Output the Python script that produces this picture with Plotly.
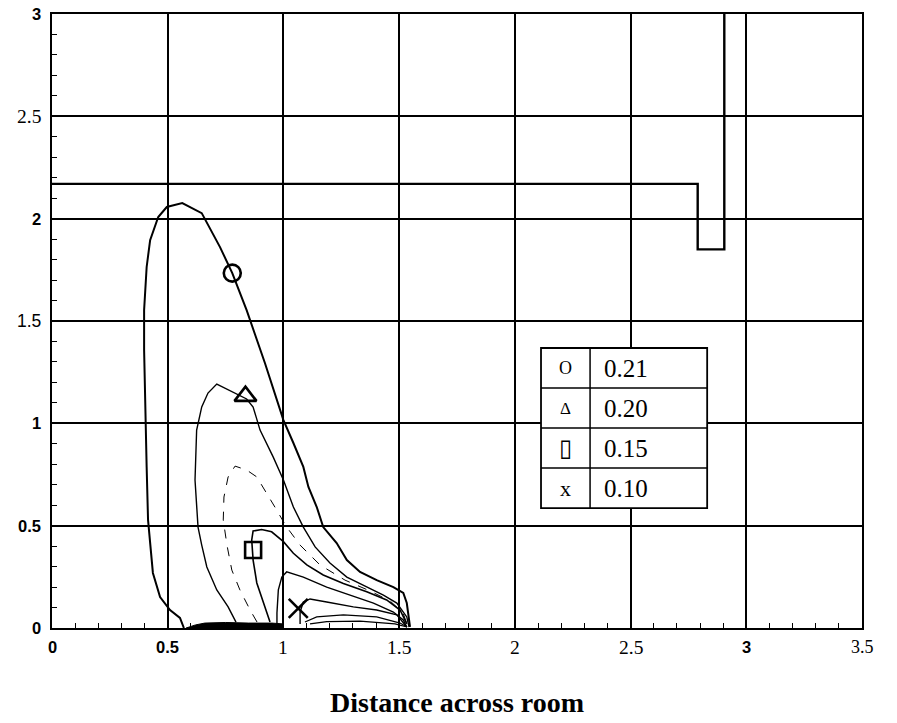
import plotly.graph_objects as go

# ---- contour lines (x = distance across room, y = height) ----
c021_x = [0.570, 0.553, 0.510, 0.467, 0.436, 0.424, 0.415, 0.409, 0.402, 0.398, 0.398, 0.409, 0.424,
          0.459, 0.496, 0.563, 0.647, 0.726, 0.779, 0.841, 0.920, 1.000, 1.043, 1.086, 1.108, 1.144,
          1.172, 1.230, 1.274, 1.331, 1.403, 1.475, 1.518, 1.533, 1.547]
c021_y = [0.000, 0.049, 0.088, 0.151, 0.269, 0.405, 0.528, 0.787, 1.114, 1.358, 1.553, 1.764, 1.895,
          2.008, 2.057, 2.076, 2.027, 1.861, 1.734, 1.553, 1.295, 1.016, 0.904, 0.787, 0.689, 0.591,
          0.493, 0.415, 0.332, 0.274, 0.234, 0.200, 0.171, 0.122, 0.005]

c020_x = [0.795, 0.761, 0.712, 0.669, 0.647, 0.631, 0.618, 0.625, 0.647, 0.674, 0.712, 0.791, 0.841,
          0.869, 0.899, 0.956, 1.000, 1.043, 1.086, 1.137, 1.201, 1.274, 1.360, 1.432, 1.490, 1.533, 1.543]
c020_y = [0.029, 0.103, 0.186, 0.298, 0.405, 0.493, 0.723, 0.967, 1.080, 1.148, 1.192, 1.148, 1.119,
          1.080, 0.967, 0.835, 0.723, 0.591, 0.493, 0.396, 0.318, 0.249, 0.200, 0.161, 0.122, 0.054, 0.005]

c018_x = [0.886, 0.856, 0.812, 0.777, 0.756, 0.740, 0.743, 0.761, 0.791, 0.841, 0.885, 0.928, 0.971,
          1.011, 1.072, 1.158, 1.266, 1.374, 1.461, 1.517, 1.538]
c018_y = [0.029, 0.088, 0.186, 0.283, 0.405, 0.528, 0.640, 0.738, 0.791, 0.772, 0.738, 0.660, 0.576,
          0.498, 0.405, 0.308, 0.234, 0.181, 0.132, 0.073, 0.005]

c015_x = [0.942, 0.913, 0.885, 0.869, 0.863, 0.869, 0.906, 0.949, 1.000, 1.043, 1.101, 1.172, 1.259,
          1.360, 1.446, 1.504, 1.533]
c015_y = [0.029, 0.122, 0.220, 0.332, 0.430, 0.474, 0.481, 0.470, 0.422, 0.365, 0.308, 0.259, 0.218,
          0.177, 0.137, 0.088, 0.020]

c012_x = [0.972, 0.972, 0.978, 0.993, 1.014, 1.086, 1.187, 1.288, 1.389, 1.475, 1.518, 1.533]
c012_y = [0.020, 0.073, 0.186, 0.249, 0.274, 0.249, 0.200, 0.161, 0.122, 0.078, 0.039, 0.005]

c010_x = [1.072, 1.072, 1.086, 1.115, 1.187, 1.302, 1.403, 1.490, 1.533]
c010_y = [0.020, 0.078, 0.127, 0.142, 0.127, 0.103, 0.088, 0.064, 0.005]

c008_x = [1.093, 1.144, 1.259, 1.403, 1.504, 1.534]
c008_y = [0.029, 0.054, 0.064, 0.054, 0.024, 0.005]

c006_x = [1.115, 1.187, 1.331, 1.482, 1.534]
c006_y = [0.020, 0.031, 0.034, 0.020, 0.005]

# dense band of contours along the floor
floor_x = [0.580, 0.620, 0.660, 0.750, 0.850, 0.950, 1.000, 1.000, 0.580]
floor_y = [0.000, 0.015, 0.024, 0.027, 0.024, 0.024, 0.020, 0.000, 0.000]

# room outline (ceiling / step / wall)
room_x = [0.0, 2.79, 2.79, 2.905, 2.905]
room_y = [2.17, 2.17, 1.85, 1.85, 3.0]

# level markers on the contours
mark_x = [0.779, 0.836, 0.869, 1.064]
mark_y = [1.734, 1.133, 0.381, 0.096]
mark_sym = ["circle-open", "triangle-up-open", "square-open", "x-thin-open"]

# key table
key_symbols = ["O", "Δ", "▯", "x"]
key_values = ["0.21", "0.20", "0.15", "0.10"]

# axis ticks and their labels
x_ticks = [0, 0.5, 1, 1.5, 2, 2.5, 3, 3.5]
x_labels = ["0", "0.5", "1", "1.5", "2", "2.5", "3", "3.5"]
y_ticks = [0, 0.5, 1, 1.5, 2, 2.5, 3]
y_labels = ["0", "0.5", "1", "1.5", "2", "2.5", "3"]

SERIF = "Liberation Serif"
SANS = "Liberation Sans"

# font style of each label as it appears in the scanned figure
x_label_style = ["bs", "bs", "serif", "serif", "serif", "serif", "bs", "serif_s"]
y_label_style = ["bs", "bs", "bs", "sans", "bs", "serif", "bs"]


def label_font(style):
    if style == "bs":
        return dict(family=SANS, size=16.5, color="black"), True
    if style == "sans":
        return dict(family=SANS, size=17.5, color="black"), False
    if style == "serif_s":
        return dict(family=SERIF, size=18, color="black"), False
    return dict(family=SERIF, size=19.5, color="black"), False


fig = go.Figure()

contours = [
    (c021_x, c021_y, 2.0, "solid"),
    (c020_x, c020_y, 1.4, "solid"),
    (c018_x, c018_y, 1.0, "dash"),
    (c015_x, c015_y, 1.6, "solid"),
    (c012_x, c012_y, 1.4, "solid"),
    (c010_x, c010_y, 1.4, "solid"),
    (c008_x, c008_y, 1.2, "solid"),
    (c006_x, c006_y, 1.2, "solid"),
]
for cx, cy, w, d in contours:
    fig.add_trace(go.Scatter(x=cx, y=cy, mode="lines", line=dict(color="black", width=w, dash=d),
                             hoverinfo="skip", showlegend=False))

fig.add_trace(go.Scatter(x=floor_x, y=floor_y, mode="lines", fill="toself", fillcolor="black",
                         line=dict(color="black", width=1), hoverinfo="skip", showlegend=False))

fig.add_trace(go.Scatter(x=room_x, y=room_y, mode="lines", line=dict(color="black", width=2.4),
                         hoverinfo="skip", showlegend=False))

fig.add_trace(go.Scatter(x=mark_x, y=mark_y, mode="markers",
                         marker=dict(symbol=mark_sym, size=[17, 19, 16, 19], color="black", opacity=1,
                                     line=dict(color="black", width=2.6)),
                         hoverinfo="skip", showlegend=False))

# key table (data coordinates)
kx0, kxd, kx1 = 2.113, 2.325, 2.831
ky_top, row_h = 1.368, 0.1955
n = len(key_values)
shapes = [dict(type="rect", xref="x", yref="y", x0=kx0, x1=kx1, y0=ky_top - n * row_h, y1=ky_top,
               fillcolor="white", line=dict(color="black", width=1.8), layer="above"),
          dict(type="line", xref="x", yref="y", x0=kxd, x1=kxd, y0=ky_top - n * row_h, y1=ky_top,
               line=dict(color="black", width=1.5), layer="above")]
for i in range(1, n):
    yy = ky_top - i * row_h
    shapes.append(dict(type="line", xref="x", yref="y", x0=kx0, x1=kx1, y0=yy, y1=yy,
                       line=dict(color="black", width=1.5), layer="above"))

sym_sizes = {"O": 18, "Δ": 17, "▯": 24, "x": 22}
annotations = []
for i, (s, v) in enumerate(zip(key_symbols, key_values)):
    yc = ky_top - (i + 0.5) * row_h
    annotations.append(dict(x=(kx0 + kxd) / 2, y=yc, xref="x", yref="y", text=s, showarrow=False,
                            font=dict(family=SERIF, size=sym_sizes[s], color="black"),
                            xanchor="center", yanchor="middle"))
    annotations.append(dict(x=kxd + 0.05, y=yc, xref="x", yref="y", text=v, showarrow=False,
                            font=dict(family=SERIF, size=25, color="black"),
                            xanchor="left", yanchor="middle"))

for t, lab, st in zip(x_ticks, x_labels, x_label_style):
    f, bold = label_font(st)
    annotations.append(dict(x=t, y=0, xref="x", yref="paper", yshift=-19, text=f"<b>{lab}</b>" if bold else lab,
                            showarrow=False, font=f, xanchor="center", yanchor="middle"))
for t, lab, st in zip(y_ticks, y_labels, y_label_style):
    f, bold = label_font(st)
    annotations.append(dict(x=0, y=t, xref="paper", yref="y", xshift=-9, text=f"<b>{lab}</b>" if bold else lab,
                            showarrow=False, font=f, xanchor="right", yanchor="middle"))

annotations.append(dict(x=0.5, y=-0.122, xref="paper", yref="paper", text="<b>Distance across room</b>",
                        showarrow=False, font=dict(family=SERIF, size=28, color="black"),
                        xanchor="center", yanchor="middle"))

axis_common = dict(showgrid=True, gridcolor="black", gridwidth=1.5, showline=True, linecolor="black",
                   linewidth=2.2, mirror=True, ticks="inside", ticklen=6, tickcolor="black", zeroline=False,
                   showticklabels=False,
                   minor=dict(dtick=0.1, ticks="inside", ticklen=5, tickcolor="black", showgrid=False))

fig.update_xaxes(range=[0, 3.5], tickmode="array", tickvals=x_ticks, **axis_common)
fig.update_yaxes(range=[0, 3], tickmode="array", tickvals=y_ticks, **axis_common)

fig.update_layout(width=897, height=723, margin=dict(l=52, r=35, t=14, b=95),
                  paper_bgcolor="white", plot_bgcolor="white", shapes=shapes, annotations=annotations,
                  showlegend=False)

fig.write_html("out.html")
